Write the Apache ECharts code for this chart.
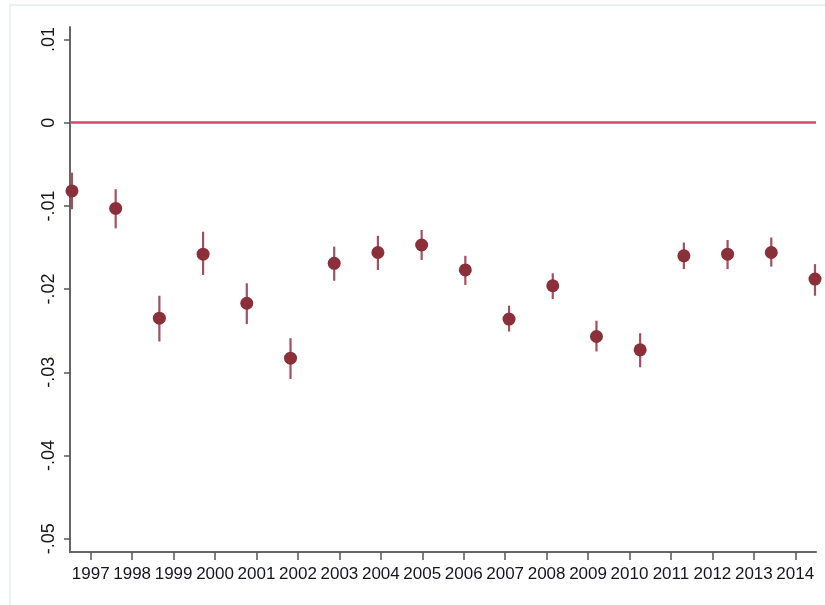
<!DOCTYPE html>
<html>
<head>
<meta charset="utf-8">
<script src="https://cdn.jsdelivr.net/npm/echarts@6/dist/echarts.min.js"></script>
<style>
  html, body { margin: 0; padding: 0; background: #ffffff; }
  #chart { width: 825px; height: 605px; }
</style>
</head>
<body>
<div id="chart"></div>
<script>
// Yearly coefficient estimates with their confidence bounds
const years = [1997, 1998, 1999, 2000, 2001, 2002, 2003, 2004, 2005, 2006, 2007, 2008, 2009, 2010, 2011, 2012, 2013, 2014];
const estimates = [-0.0082, -0.0103, -0.0235, -0.0158, -0.0217, -0.0283, -0.0169, -0.0156, -0.0147, -0.0177, -0.0236, -0.0196, -0.0257, -0.0273, -0.0160, -0.0158, -0.0156, -0.0188];
const lowerBounds = [-0.0104, -0.0127, -0.0263, -0.0183, -0.0242, -0.0308, -0.0190, -0.0177, -0.0165, -0.0195, -0.0251, -0.0212, -0.0275, -0.0294, -0.0176, -0.0176, -0.0173, -0.0208];
const upperBounds = [-0.0060, -0.0080, -0.0208, -0.0131, -0.0193, -0.0259, -0.0149, -0.0136, -0.0129, -0.0160, -0.0220, -0.0181, -0.0238, -0.0253, -0.0144, -0.0141, -0.0138, -0.0170];

// Axis ticks
const xTickYears = [1997, 1998, 1999, 2000, 2001, 2002, 2003, 2004, 2005, 2006, 2007, 2008, 2009, 2010, 2011, 2012, 2013, 2014];
const yTickValues = [-0.05, -0.04, -0.03, -0.02, -0.01, 0, 0.01];
const referenceValue = 0;

const markerColor = '#8b2f3a';
const barColor = '#9a3c4b';
const font = 'Liberation Sans, Arial, sans-serif';

function formatTick(v) {
  if (Math.abs(v) < 1e-12) return '0';
  const s = Math.abs(v).toFixed(2).replace(/^0/, '');
  return (v < 0 ? '-' : '') + s;
}

const points = years.map((y, i) => [y, estimates[i]]);
const bars = years.map((y, i) => [y, lowerBounds[i], upperBounds[i]]);

const chart = echarts.init(document.getElementById('chart'), null, { renderer: 'canvas' });

chart.setOption({
  animation: false,
  backgroundColor: '#ffffff',
  graphic: [{
    type: 'rect',
    shape: { x: 10, y: 5, width: 830, height: 610 },
    style: { fill: 'none', stroke: '#eaf1f1', lineWidth: 2 },
    silent: true,
    z: -1
  }],
  grid: { left: 70, right: 9, top: 27, bottom: 53, containLabel: false },
  xAxis: [
    {
      type: 'value',
      min: 1996.5,
      max: 2014.5,
      position: 'bottom',
      axisLine: { show: true, onZero: false, lineStyle: { color: '#666666', width: 2 } },
      axisTick: { show: true, customValues: xTickYears, length: 8, lineStyle: { color: '#555555', width: 1.5 } },
      axisLabel: {
        customValues: xTickYears,
        formatter: v => String(Math.round(v)),
        color: '#151520',
        fontFamily: font,
        fontSize: 17,
        margin: 14
      },
      splitLine: { show: false }
    },
    {
      type: 'value',
      min: 1996.955,
      max: 2014.023,
      show: false,
      position: 'bottom',
      splitLine: { show: false }
    }
  ],
  yAxis: {
    type: 'value',
    min: -0.0516,
    max: 0.0115,
    axisLine: { show: true, onZero: false, lineStyle: { color: '#666666', width: 2 } },
    axisTick: { show: true, customValues: yTickValues, length: 6, lineStyle: { color: '#555555', width: 1.5 } },
    axisLabel: {
      customValues: yTickValues,
      formatter: formatTick,
      rotate: 90,
      color: '#151520',
      fontFamily: font,
      fontSize: 18,
      margin: 12
    },
    splitLine: { show: false }
  },
  series: [
    {
      type: 'custom',
      xAxisIndex: 1,
      data: bars,
      renderItem: function (params, api) {
        const x = api.value(0);
        const lo = api.coord([x, api.value(1)]);
        const hi = api.coord([x, api.value(2)]);
        return {
          type: 'line',
          shape: { x1: lo[0], y1: lo[1], x2: hi[0], y2: hi[1] },
          style: { stroke: barColor, lineWidth: 2.2, opacity: 0.9 }
        };
      },
      z: 2
    },
    {
      type: 'scatter',
      xAxisIndex: 1,
      data: points,
      symbol: 'circle',
      symbolSize: 13,
      itemStyle: { color: markerColor, opacity: 1 },
      z: 3,
      markLine: {
        silent: true,
        symbol: 'none',
        label: { show: false },
        lineStyle: { color: '#d6476c', width: 2.5, type: 'solid' },
        data: [{ yAxis: referenceValue }],
        z: 1
      }
    }
  ]
});
</script>
</body>
</html>
